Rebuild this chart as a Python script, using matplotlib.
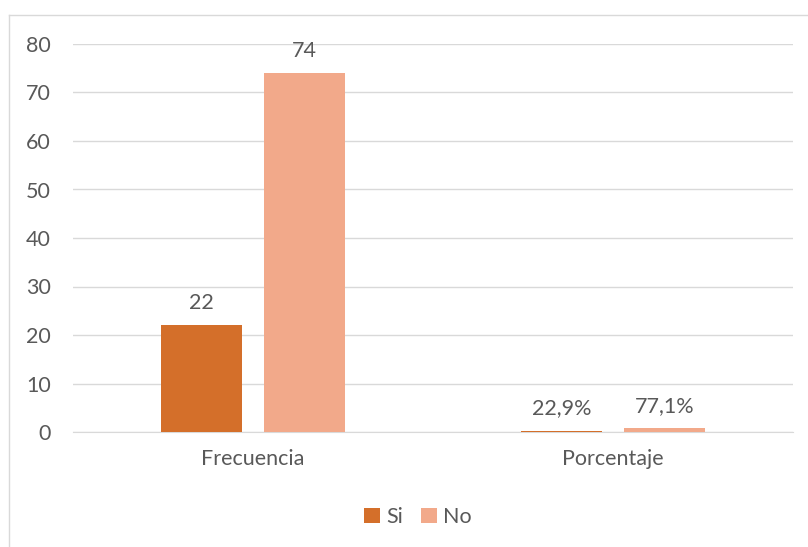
import matplotlib
matplotlib.use("Agg")
import matplotlib.pyplot as plt
import numpy as np

categories = ["Frecuencia", "Porcentaje"]
series_names = ["Si", "No"]
si_values = [22, 0.229]
no_values = [74, 0.771]
si_labels = ["22", "22,9%"]
no_labels = ["74", "77,1%"]
yticks = [0, 10, 20, 30, 40, 50, 60, 70, 80]

plt.rcParams['font.family'] = ['Lato', 'DejaVu Sans']
text_color = "#595959"
c_si = "#D46F2A"
c_no = "#F2A98A"
fs = 15.5

fig = plt.figure(figsize=(8.08, 5.47), dpi=100)
ax = fig.add_axes([73/808, 1-432/547, 720/808, 388/547])

x = np.arange(len(categories))
w = 0.225
off = 0.143
b1 = ax.bar(x - off, si_values, w, color=c_si, label=series_names[0], zorder=3)
b2 = ax.bar(x + off, no_values, w, color=c_no, label=series_names[1], zorder=3)

for rect, lab in zip(list(b1) + list(b2), si_labels + no_labels):
    ax.annotate(lab, (rect.get_x() + rect.get_width()/2, rect.get_height()),
                xytext=(0, 9), textcoords="offset points", ha="center", va="bottom",
                fontsize=fs, color=text_color)

ax.set_xlim(-0.5, 1.5)
ax.set_ylim(0, 80)
ax.set_yticks(yticks)
ax.set_xticks(x)
ax.set_xticklabels(categories)
ax.tick_params(axis='both', length=0, labelsize=fs, colors=text_color)
ax.tick_params(axis='y', pad=16)
ax.tick_params(axis='x', pad=12)
ax.yaxis.grid(True, color="#D9D9D9", linewidth=1, zorder=0)
for s in ["top", "right", "left"]:
    ax.spines[s].set_visible(False)
ax.spines["bottom"].set_color("#D9D9D9")
ax.spines["bottom"].set_zorder(2)

leg = fig.legend(loc="center", bbox_to_anchor=(418/808, 1-517/547), ncol=2, frameon=False,
                 fontsize=fs, handlelength=0.75, handleheight=0.75, handletextpad=0.3,
                 columnspacing=0.8, labelcolor=text_color)

# outer chart border (left and top visible)
fig.add_artist(plt.Line2D([9/808, 9/808], [0, 1-15/547], transform=fig.transFigure, color="#D9D9D9", lw=1))
fig.add_artist(plt.Line2D([9/808, 1], [1-15/547, 1-15/547], transform=fig.transFigure, color="#D9D9D9", lw=1))

fig.savefig("out.png", dpi=100)
